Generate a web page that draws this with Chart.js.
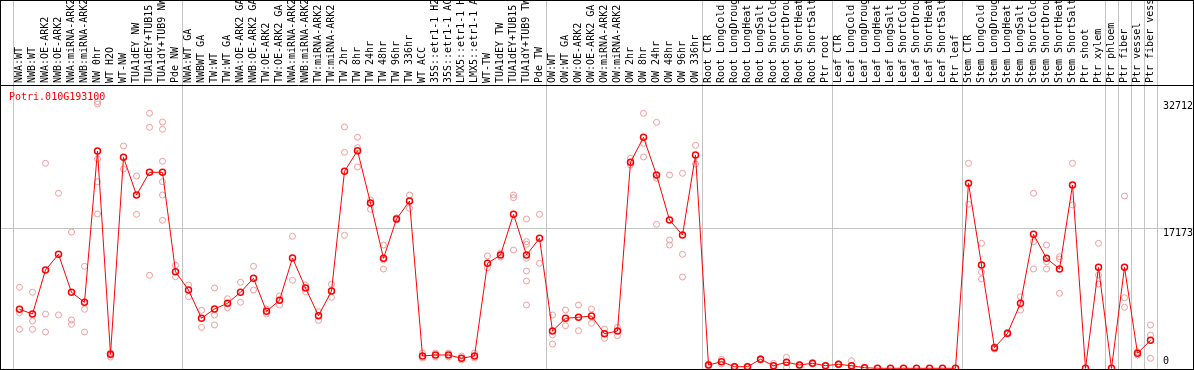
<!DOCTYPE html>
<html>
<head>
<meta charset="utf-8">
<script src="https://cdn.jsdelivr.net/npm/chart.js@4.4.1/dist/chart.umd.min.js"></script>
<style>
  html, body { margin: 0; padding: 0; background: #fff; }
  #wrap { width: 1194px; height: 370px; }
</style>
</head>
<body>
<div id="wrap"><canvas id="chart" width="1194" height="370"></canvas></div>
<script>
// ---- data -------------------------------------------------------------
const geneId = 'Potri.010G193100';

const samples = [
  'NWA:WT','NWB:WT','NWA:OE-ARK2','NWB:OE-ARK2','NWA:miRNA-ARK2','NWB:miRNA-ARK2','NW 0hr','WT H2O','WT-NW',
  'TUA1dEY NW','TUA1dEY+TUB15','TUA1dY+TUB9 NW','Pde NW',
  'NWA:WT GA','NWBWT GA','TW:WT','TW:WT GA','NWA:OE-ARK2 GA','NWB:OE-ARK2 GA','TW:OE-ARK2','TW:OE-ARK2 GA',
  'NWA:miRNA-ARK2','NWB:miRNA-ARK2','TW:miRNA-ARK2','TW:miRNA-ARK2','TW 2hr','TW 8hr','TW 24hr','TW 48hr',
  'TW 96hr','TW 336hr','WT ACC','35S::etr1-1 H2','35S::etr1-1 AC','LMX5::etr1-1 H','LMX5::etr1-1 A','WT-TW',
  'TUA1dEY TW','TUA1dEY+TUB15','TUA1dY+TUB9 TW','Pde TW',
  'OW:WT','OW:WT GA','OW:OE-ARK2','OW:OE-ARK2 GA','OW:miRNA-ARK2','OW:miRNA-ARK2','OW 2hr','OW 8hr','OW 24hr',
  'OW 48hr','OW 96hr','OW 336hr',
  'Root CTR','Root LongCold','Root LongDroug','Root LongHeat','Root LongSalt','Root ShortCold','Root ShortDrou',
  'Root ShortHeat','Root ShortSalt','Ptr root',
  'Leaf CTR','Leaf LongCold','Leaf LongDroug','Leaf LongHeat','Leaf LongSalt','Leaf ShortCold','Leaf ShortDrou',
  'Leaf ShortHeat','Leaf ShortSalt','Ptr leaf',
  'Stem CTR','Stem LongCold','Stem LongDroug','Stem LongHeat','Stem LongSalt','Stem ShortCold','Stem ShortDrou',
  'Stem ShortHeat','Stem ShortSalt','Ptr shoot',
  'Ptr xylem','Ptr phloem','Ptr fiber','Ptr vessel','Ptr fiber vess'
];

// mean expression per sample (red line)
const means = [
  7237, 6660, 12057, 13983, 9322, 8096, 26654, 1717, 25881, 21257, 24041, 24041, 11849,
  9604, 6133, 7274, 7973, 9322, 11039, 6992, 8341, 13529, 9850, 6452, 9482, 24164, 26691, 20276, 13493,
  18313, 20521, 1509, 1631, 1631, 1227, 1509, 12879, 13897, 18890, 13897, 15946,
  4575, 6133, 6256, 6415, 4244, 4575, 25268, 28334, 23710, 18190, 16350, 26163,
  405, 810, 196, 196, 1104, 319, 736, 405, 613, 319,
  491, 310, 74, 0, 0, 0, 0, 0, 0, 0,
  22692, 12671, 2527, 4293, 7973, 16436, 13493, 12180, 22484, 0,
  12389, 0, 12389, 1840, 3434
];

// single replicates: sample index + value (pale circles)
const repSample = [
  0,0,0, 1,1,1, 2,2,2, 3,3, 4,4,4, 5,5,5, 6,6,6,6,6, 7,7,7, 8,8, 9,9, 10,10,10, 11,11,11,11,11,11, 12,12,
  13,13, 14,14, 15,15,15, 16,16, 17,17, 18,18, 19,19, 20,20, 21,21, 22,22, 23,23, 24,24, 25,25,25, 26,26,26,
  27,27, 28,28,28, 29,29, 30,30, 31,31, 32,32, 33,33, 34,34, 35,35, 36,36, 37,37, 38,38,38,
  39,39,39,39,39,39,39, 40,40,
  41,41,41, 42,42, 43,43, 44,44, 45,45, 46,46, 47,47, 48,48,48, 49,49,49, 50,50,50, 51,51,51, 52,52,
  53,53, 54,54, 55,55, 56,56, 57,57, 58,58, 59,59, 60,60, 61,61, 62,62, 63,63, 64,64,64, 65,65,
  73,73, 74,74,74, 75,75, 76,76, 77,77, 78,78,78, 79,79,79, 80,80,80, 81,81,
  83,83,83, 85,85,85, 86,86, 87,87,87
];
const repValue = [
  9935,6820,4784, 9322,5802,4784, 25145,6660,4453, 21466,6538, 16719,5925,5397, 12511,7237,4453,
  32712,32419,25673,22888,18926, 1913,1631,1386, 27267,24446, 23587,18890, 31278,29561,11407,
  30211,29316,25391,22888,21257,18154, 12634,11236,
  10218,8782, 7114,5029, 9850,6538,5311, 8537,7433, 10549,8096, 12511,9604, 7274,6660, 8868,7764,
  16191,10794, 10218,9396, 6943,5888, 10303,8709, 29598,26495,16314, 28334,27059,24691,
  20644,19503, 15124,13284,12180, 18473,18190, 21257,19626, 1877,1263, 1877,1386, 1877,1386,
  1509,1018, 1877,1263, 13775,12340, 14143,13652, 21257,20926,14511,
  18313,15529,15210,13493,11935,10708,7764, 18890,12879,
  6538,4085,2981, 7151,5225, 7764,4612, 7274,5520, 4820,3680, 5029,3999, 25759,24937,
  31278,27599,25918, 30174,23305,17663, 23710,15737,15124, 23919,13983,11199, 27353,25059,
  500,310, 1104,527, 250,140, 240,150, 1200,1000, 613,30, 1349,120, 480,330, 700,530, 380,260,
  560,420, 932,0,0, 120,30,
  25145,20116, 15333,11775,10954, 2649,2367, 4400,4190, 8782,7151, 21466,15529,12180,
  15124,13075,12180, 13689,13407,9200, 25145,20030,
  15333,11444,10340, 21134,8660,7482, 2036,1631, 5311,4085,1227
];

const yTickValues = [0, 17173, 32712];
const groupStarts = [0, 13, 41, 53, 63, 73, 84, 85, 86, 87, 88];   // separator lines

// ---- chart ------------------------------------------------------------
const yMin = -86, yMax = 34751;
const mono = { family: "'DejaVu Sans Mono', monospace", size: 10 };
const sepColor = '#c4c4c4';
const none = 'rgba(0,0,0,0)';

// gray separators only at group boundaries (last boundary has no tick index)
const xGridColor = c => groupStarts.includes(c.index ?? samples.length) ? sepColor : none;
const yGridColor = c => c.tick && c.tick.value === yTickValues[1] ? sepColor : none;
const setYTicks = s => { s.ticks = yTickValues.map(v => ({ value: v })); };

// box, header rule and gene id
const framePlugin = {
  id: 'frame',
  afterDraw(chart) {
    const ctx = chart.ctx, area = chart.chartArea;
    ctx.save();
    ctx.strokeStyle = '#000';
    ctx.lineWidth = 1;
    ctx.strokeRect(0.5, 0.5, chart.width - 1, area.bottom);
    ctx.beginPath();
    ctx.moveTo(0, area.top + 0.5);
    ctx.lineTo(chart.width, area.top + 0.5);
    ctx.stroke();
    ctx.fillStyle = '#ff0000';
    ctx.font = `${mono.size}px ${mono.family}`;
    ctx.textBaseline = 'middle';
    ctx.fillText(geneId, 9, area.top + 12);
    ctx.restore();
  }
};

new Chart(document.getElementById('chart'), {
  type: 'line',
  data: {
    labels: samples,
    datasets: [
      {
        data: means,
        borderColor: '#ff0000',
        borderWidth: 1,
        pointRadius: 3,
        pointBorderWidth: 1.5,
        pointBorderColor: '#ff0000',
        pointBackgroundColor: none,
        tension: 0,
        order: 0
      },
      {
        data: repSample.map((s, k) => ({ x: s, y: repValue[k] })),
        xAxisID: 'xr',
        showLine: false,
        pointRadius: 3,
        pointBorderWidth: 1,
        pointBorderColor: '#ef9a9a',
        pointBackgroundColor: none,
        order: 1
      }
    ]
  },
  options: {
    responsive: false,
    animation: false,
    layout: { autoPadding: false, padding: { left: 1, right: 1, top: 0, bottom: 1 } },
    plugins: { legend: { display: false }, tooltip: { enabled: false } },
    scales: {
      x: {
        position: 'top',
        offset: true,
        afterFit: s => { s.height = 85; },
        grid: { offset: true, tickLength: 85, color: xGridColor },
        border: { display: false },
        ticks: {
          autoSkip: false, minRotation: 90, maxRotation: 90,
          padding: -83, labelOffset: 12, color: '#000', font: mono
        }
      },
      xr: { type: 'linear', display: false, min: -0.5, max: samples.length - 0.5 },
      y: {
        position: 'right',
        min: yMin, max: yMax,
        afterBuildTicks: setYTicks,
        afterFit: s => { s.width = 36; },
        grid: { tickLength: 36, color: yGridColor },
        border: { display: false },
        ticks: {
          padding: -30,
          labelOffset: 5,
          color: '#000',
          // the "0" label sits above the bottom edge: an empty second line lifts it
          callback: v => v === 0 ? ['0', ''] : String(v),
          font: c => ({ ...mono, lineHeight: c.tick && c.tick.value === 0 ? '23px' : '12px' })
        }
      },
      y0: {
        position: 'left',
        min: yMin, max: yMax,
        afterBuildTicks: setYTicks,
        afterFit: s => { s.width = 12; },
        grid: { drawOnChartArea: false, tickLength: 12, color: yGridColor },
        border: { display: false },
        ticks: { display: false }
      }
    }
  },
  plugins: [framePlugin]
});
</script>
</body>
</html>
